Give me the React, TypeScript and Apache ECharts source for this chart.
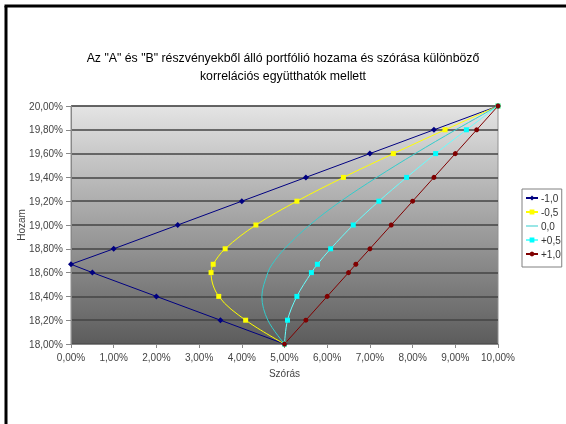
import React, { useEffect, useRef } from "react";
import * as echarts from "echarts";

const titleText = 'Az "A" és "B" részvényekből álló portfólió hozama és szórása különböző\nkorrelációs együtthatók mellett';
const xAxisName = "Szórás";
const yAxisName = "Hozam";

const returns = [18.0, 18.2, 18.4, 18.6, 18.67, 18.8, 19.0, 19.2, 19.4, 19.6, 19.8, 20.0];
const sdMinus1 = [5.0, 3.5, 2.0, 0.5, 0.0, 1.0, 2.5, 4.0, 5.5, 7.0, 8.5, 10.0];
const sdMinus05 = [5.0, 4.09, 3.46, 3.28, 3.33, 3.61, 4.33, 5.29, 6.38, 7.55, 8.76, 10.0];
const sdZero = [5.0, 4.61, 4.47, 4.61, 4.71, 5.0, 5.59, 6.32, 7.16, 8.06, 9.01, 10.0];
const sdPlus05 = [5.0, 5.07, 5.29, 5.63, 5.77, 6.08, 6.61, 7.21, 7.86, 8.54, 9.26, 10.0];
const sdPlus1 = [5.0, 5.5, 6.0, 6.5, 6.67, 7.0, 7.5, 8.0, 8.5, 9.0, 9.5, 10.0];

const seriesNames = ["-1,0", "-0,5", "0,0", "+0,5", "+1,0"];
const seriesColors = ["#000080", "#ffff00", "#33cccc", "#66ffff", "#800000"];

const fmt = (v: number) => v.toFixed(2).replace(".", ",") + "%";

export default function App() {
  const ref = useRef<HTMLDivElement>(null);
  useEffect(() => {
    document.body.style.margin = "0";
    const chart = echarts.init(ref.current!, null, { renderer: "svg" });
    const pair = (sd: number[]) => sd.map((x, i) => [x, returns[i]]);
    const font = "'Liberation Sans', Arial, sans-serif";
    const mk = (
      idx: number,
      sd: number[],
      symbol: string,
      size: number,
      smooth: number | boolean,
      showSymbol = true,
      symColor?: string
    ) => ({
      type: "line",
      name: seriesNames[idx],
      data: pair(sd),
      smooth,
      showSymbol,
      symbol: showSymbol ? symbol : "none",
      symbolSize: size,
      lineStyle: { color: seriesColors[idx], width: 1 },
      itemStyle: { color: symColor || seriesColors[idx], borderWidth: 0 },
      z: 2 + idx,
    });
    chart.setOption({
      animation: false,
      textStyle: { fontFamily: font },
      title: {
        text: titleText,
        left: "center",
        top: 49,
        padding: 0,
        textStyle: { fontSize: 12.3, fontWeight: "normal", color: "#000", lineHeight: 18, fontFamily: font },
      },
      grid: {
        left: 71,
        top: 106,
        width: 427,
        height: 238,
        show: true,
        borderColor: "#909090",
        borderWidth: 1,
        backgroundColor: {
          type: "linear",
          x: 0,
          y: 0,
          x2: 0,
          y2: 1,
          colorStops: [
            { offset: 0, color: "#e4e4e4" },
            { offset: 1, color: "#5c5c5c" },
          ],
        },
      },
      legend: {
        orient: "vertical",
        left: 522,
        top: 189,
        padding: [4, 1, 8, 3],
        itemWidth: 12,
        itemHeight: 6,
        itemGap: 4,
        borderColor: "#808080",
        borderWidth: 1,
        backgroundColor: "#fff",
        textStyle: { fontSize: 10, color: "#333", fontFamily: font, padding: [0, 0, 0, -2] },
        data: [
          seriesNames[0],
          seriesNames[1],
          { name: seriesNames[2], icon: "path://M0,0L12,0L12,1L0,1Z", itemStyle: { color: seriesColors[2] } },
          seriesNames[3],
          seriesNames[4],
        ],
      },
      xAxis: {
        type: "value",
        min: 0,
        max: 10,
        interval: 1,
        name: xAxisName,
        nameLocation: "middle",
        nameGap: 24,
        nameMoveOverlap: false,
        nameTextStyle: { fontSize: 10, color: "#444", fontFamily: font },
        axisLine: { lineStyle: { color: "#888" } },
        axisTick: { show: true, length: 4, lineStyle: { color: "#888" } },
        axisLabel: { formatter: fmt, fontSize: 10, color: "#444", margin: 8, fontFamily: font },
        splitLine: { show: false },
      },
      yAxis: {
        type: "value",
        min: 18,
        max: 20,
        interval: 0.2,
        name: yAxisName,
        nameLocation: "middle",
        nameGap: 45,
        nameMoveOverlap: false,
        nameRotate: 90,
        nameTextStyle: { fontSize: 10, color: "#444", fontFamily: font },
        axisLine: { show: true, lineStyle: { color: "#888" } },
        axisTick: { show: true, length: 5, lineStyle: { color: "#888" } },
        axisLabel: { formatter: fmt, fontSize: 10, color: "#444", margin: 8, fontFamily: font },
        splitLine: { show: true, lineStyle: { color: "#444", width: 1.5 } },
      },
      graphic: [
        { type: "line", shape: { x1: 6, y1: 6, x2: 6, y2: 430 }, style: { stroke: "#000", lineWidth: 3 } },
        { type: "line", shape: { x1: 4.5, y1: 6, x2: 566, y2: 6 }, style: { stroke: "#000", lineWidth: 3 } },
      ],
      series: [
        mk(0, sdMinus1, "diamond", 6, false),
        mk(1, sdMinus05, "rect", 5, 0.35),
        mk(2, sdZero, "none", 4, 0.35, false),
        mk(3, sdPlus05, "rect", 5, 0.35, true, "#00ffff"),
        mk(4, sdPlus1, "circle", 5, false),
      ],
    });
    return () => chart.dispose();
  }, []);
  return <div ref={ref} style={{ position: "fixed", left: 0, top: 0, width: 566, height: 424 }} />;
}
